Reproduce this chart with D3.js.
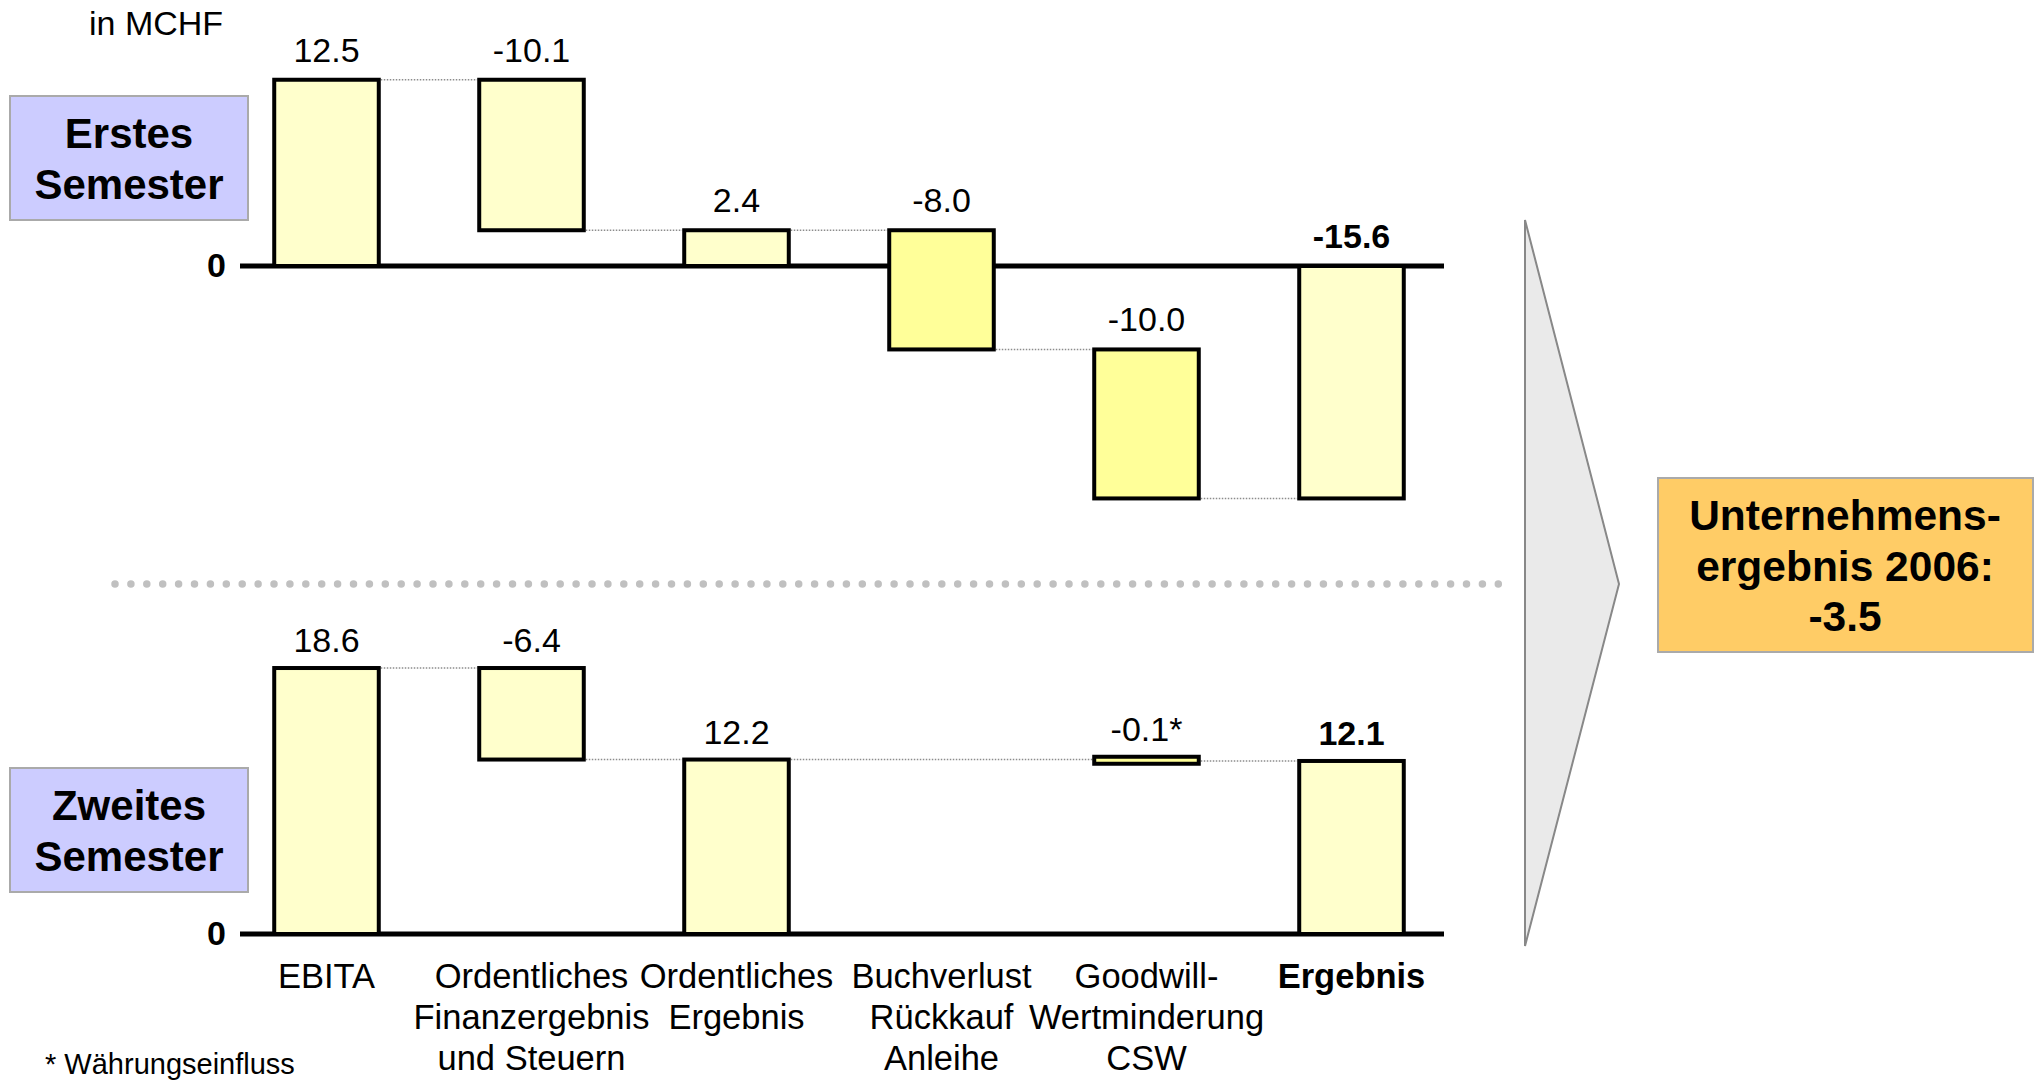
<!DOCTYPE html>
<html>
<head>
<meta charset="utf-8">
<script src="https://cdn.jsdelivr.net/npm/d3@7"></script>
<style>
  html, body { margin: 0; padding: 0; background: #ffffff; }
  svg { display: block; font-family: "Liberation Sans", Arial, Helvetica, sans-serif; }
</style>
</head>
<body>
<svg id="chart" width="2034" height="1080"></svg>
<script>
// Categories of the bridge from EBITA to the half-year result
const categories = [
  "EBITA",
  "Ordentliches Finanzergebnis und Steuern",
  "Ordentliches Ergebnis",
  "Buchverlust Rückkauf Anleihe",
  "Goodwill-Wertminderung CSW",
  "Ergebnis"
];
const categoryLines = [
  ["EBITA"],
  ["Ordentliches", "Finanzergebnis", "und Steuern"],
  ["Ordentliches", "Ergebnis"],
  ["Buchverlust", "Rückkauf", "Anleihe"],
  ["Goodwill-", "Wertminderung", "CSW"],
  ["Ergebnis"]
];
// "total" bars start at zero, "delta" bars continue from the running sum
const barKinds = ["total", "delta", "total", "delta", "delta", "total"];

// Values in MCHF
const firstHalf = [12.5, -10.1, 2.4, -8.0, -10.0, -15.6];
const secondHalf = [18.6, -6.4, 12.2, null, -0.1, 12.1];
const secondHalfNotes = ["", "", "", "", "*", ""];

const panelTitles = [["Erstes", "Semester"], ["Zweites", "Semester"]];
const unitLabel = "in MCHF";
const footnote = "* Währungseinfluss";
const zeroTick = [0];

const svg = d3.select("#chart");

// One-off items are highlighted in a stronger yellow
const oneOffItems = new Set(["Buchverlust Rückkauf Anleihe", "Goodwill-Wertminderung CSW"]);
const fillFor = c => oneOffItems.has(c) ? "#FFFF99" : "#FFFFCC";

const x = d3.scaleBand()
  .domain(categories)
  .range([224, 1454])
  .paddingInner(0.49)
  .paddingOuter(0.245);

const yFirst = d3.scaleLinear().domain([-16, 13]).range([504.4, 72.3]);
const ySecond = d3.scaleLinear().domain([0, 19]).range([934, 662.3]);

const axisLeft = 240, axisRight = 1444;

function waterfall(values) {
  let running = 0;
  return values.map((v, i) => {
    if (v === null) return null;
    let start, end;
    if (barKinds[i] === "total") { start = 0; end = v; }
    else { start = running; end = running + v; }
    running = end;
    return { cat: categories[i], i, value: v, start, end };
  });
}

function drawPanel(values, notes, y, labelGap) {
  const g = svg.append("g");
  const steps = waterfall(values);
  const bars = steps.filter(d => d !== null);

  // zero line
  g.append("line")
    .attr("x1", axisLeft).attr("x2", axisRight)
    .attr("y1", y(0)).attr("y2", y(0))
    .attr("stroke", "#000").attr("stroke-width", 5);

  // zero tick label
  const ax = g.append("g")
    .attr("transform", `translate(${axisLeft},0)`)
    .call(d3.axisLeft(y).tickValues(zeroTick).tickSize(0).tickPadding(14).tickFormat(d3.format("d")));
  ax.select(".domain").remove();
  ax.selectAll("text")
    .attr("font-size", 34).attr("font-weight", "bold")
    .attr("font-family", "'Liberation Sans', Arial, sans-serif")
    .attr("fill", "#000");

  // dotted connectors between consecutive bars
  for (let k = 0; k < bars.length - 1; k++) {
    const a = bars[k], b = bars[k + 1];
    g.append("line")
      .attr("x1", x(a.cat) + x.bandwidth() + 2).attr("x2", x(b.cat) - 2)
      .attr("y1", y(a.end)).attr("y2", y(a.end))
      .attr("stroke", "#8c8c8c").attr("stroke-width", 1.5)
      .attr("stroke-dasharray", "1.5 1.5");
  }

  // bars (very small steps keep a minimum visible height)
  const minH = 7;
  const barTop = d => {
    const h = Math.abs(y(d.start) - y(d.end));
    return h < minH ? (y(d.start) + y(d.end)) / 2 - minH / 2 : Math.min(y(d.start), y(d.end));
  };
  g.selectAll("rect.bar").data(bars).enter().append("rect")
    .attr("class", "bar")
    .attr("x", d => x(d.cat))
    .attr("width", x.bandwidth())
    .attr("y", barTop)
    .attr("height", d => Math.max(minH, Math.abs(y(d.start) - y(d.end))))
    .attr("fill", d => fillFor(d.cat))
    .attr("stroke", "#000").attr("stroke-width", 4);

  // value labels above each bar
  g.selectAll("text.val").data(bars).enter().append("text")
    .attr("class", "val")
    .attr("x", d => x(d.cat) + x.bandwidth() / 2)
    .attr("y", d => barTop(d) - labelGap)
    .attr("text-anchor", "middle")
    .attr("font-size", 34)
    .attr("font-weight", d => d.cat === "Ergebnis" ? "bold" : "normal")
    .text(d => d.value.toFixed(1) + notes[d.i]);

  return steps;
}

const stepsFirst = drawPanel(firstHalf, ["", "", "", "", "", ""], yFirst, 18);
const stepsSecond = drawPanel(secondHalf, secondHalfNotes, ySecond, 16);

// panel title boxes
function titleBox(lines, y0) {
  svg.append("rect")
    .attr("x", 10).attr("y", y0).attr("width", 238).attr("height", 124)
    .attr("fill", "#CCCCFF").attr("stroke", "#AAAAAA").attr("stroke-width", 2);
  svg.append("text")
    .attr("x", 129).attr("y", y0 + 52)
    .attr("text-anchor", "middle").attr("font-size", 42).attr("font-weight", "bold")
    .selectAll("tspan").data(lines).enter().append("tspan")
    .attr("x", 129).attr("dy", (d, i) => i === 0 ? 0 : 51)
    .text(d => d);
}
titleBox(panelTitles[0], 96);
titleBox(panelTitles[1], 768);

// unit
svg.append("text").attr("x", 89).attr("y", 35)
  .attr("font-size", 34).text(unitLabel);

// category labels along the bottom
const catG = svg.append("g");
categories.forEach((c, i) => {
  const t = catG.append("text")
    .attr("x", x(c) + x.bandwidth() / 2).attr("y", 988)
    .attr("text-anchor", "middle").attr("font-size", 34.5)
    .attr("font-weight", c === "Ergebnis" ? "bold" : "normal");
  t.selectAll("tspan").data(categoryLines[i]).enter().append("tspan")
    .attr("x", x(c) + x.bandwidth() / 2)
    .attr("dy", (d, k) => k === 0 ? 0 : 41)
    .text(d => d);
});

// footnote
svg.append("text").attr("x", 45).attr("y", 1074)
  .attr("font-size", 29).text(footnote);

// dotted divider between the two half-years
svg.append("line")
  .attr("x1", 115).attr("x2", 1512).attr("y1", 584).attr("y2", 584)
  .attr("stroke", "#C0C0C0").attr("stroke-width", 7.5)
  .attr("stroke-linecap", "round").attr("stroke-dasharray", "0 15.9");

// chevron pointing to the annual result
svg.append("path")
  .attr("d", "M1525,220 L1619,584 L1525,946 Z")
  .attr("fill", "#EAEAEA").attr("stroke", "#888888").attr("stroke-width", 2);

// annual result box
const lastFirst = stepsFirst[stepsFirst.length - 1].value;
const lastSecond = stepsSecond[stepsSecond.length - 1].value;
const annual = (lastFirst + lastSecond).toFixed(1);
svg.append("rect")
  .attr("x", 1658).attr("y", 478).attr("width", 375).attr("height", 174)
  .attr("fill", "#FFCC66").attr("stroke", "#AAAAAA").attr("stroke-width", 2);
const resultLines = ["Unternehmens-", "ergebnis 2006:", annual];
svg.append("text")
  .attr("x", 1845).attr("y", 530)
  .attr("text-anchor", "middle").attr("font-size", 42.5).attr("font-weight", "bold")
  .selectAll("tspan").data(resultLines).enter().append("tspan")
  .attr("x", 1845).attr("dy", (d, i) => i === 0 ? 0 : 50.5)
  .text(d => d);
</script>
</body>
</html>
